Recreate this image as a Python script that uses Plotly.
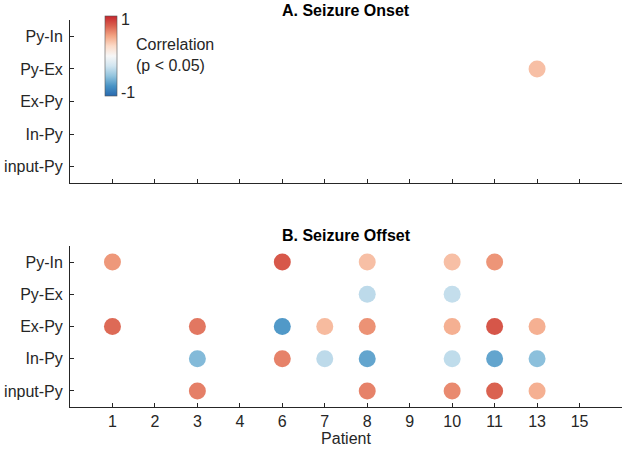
import plotly.graph_objects as go

patients = ["1", "2", "3", "4", "6", "7", "8", "9", "10", "11", "13", "15"]
connections = ["input-Py", "In-Py", "Ex-Py", "Py-Ex", "Py-In"]

# Panel A: seizure onset (patient label, connection, correlation)
onset_patient = ["13"]
onset_conn = ["Py-Ex"]
onset_corr = [0.38]

# Panel B: seizure offset
offset_patient = ["1", "1",
                  "3", "3", "3",
                  "6", "6", "6",
                  "7", "7",
                  "8", "8", "8", "8", "8",
                  "10", "10", "10", "10", "10",
                  "11", "11", "11", "11",
                  "13", "13", "13"]
offset_conn = ["Py-In", "Ex-Py",
               "Ex-Py", "In-Py", "input-Py",
               "Py-In", "Ex-Py", "In-Py",
               "Ex-Py", "In-Py",
               "Py-In", "Py-Ex", "Ex-Py", "In-Py", "input-Py",
               "Py-In", "Py-Ex", "Ex-Py", "In-Py", "input-Py",
               "Py-In", "Ex-Py", "In-Py", "input-Py",
               "Ex-Py", "In-Py", "input-Py"]
offset_corr = [0.55, 0.72,
               0.67, -0.55, 0.64,
               0.79, -0.72, 0.63,
               0.40, -0.33,
               0.38, -0.33, 0.57, -0.66, 0.63,
               0.38, -0.30, 0.45, -0.32, 0.60,
               0.56, 0.80, -0.66, 0.75,
               0.45, -0.52, 0.45]

# colorbar tick labels
cbar_labels = ["-1", "1"]

xpos = {p: i + 1 for i, p in enumerate(patients)}
ypos = {c: i + 1 for i, c in enumerate(connections)}

colorscale = [
    [0.0, "rgb(40,105,175)"],
    [0.125, "rgb(72,147,197)"],
    [0.25, "rgb(146,196,222)"],
    [0.375, "rgb(209,229,240)"],
    [0.5, "rgb(247,247,247)"],
    [0.625, "rgb(252,219,200)"],
    [0.75, "rgb(243,165,132)"],
    [0.875, "rgb(218,98,80)"],
    [1.0, "rgb(198,38,45)"],
]

FONT = "Liberation Sans, Arial, Helvetica, sans-serif"
AX = "#262626"
FS = 16

fig = go.Figure()
fig.add_trace(go.Scatter(
    x=[xpos[p] for p in onset_patient], y=[ypos[c] for c in onset_conn],
    mode="markers", xaxis="x", yaxis="y",
    marker=dict(size=17, color=onset_corr, coloraxis="coloraxis", line=dict(width=0)),
    showlegend=False, hoverinfo="skip"))
fig.add_trace(go.Scatter(
    x=[xpos[p] for p in offset_patient], y=[ypos[c] for c in offset_conn],
    mode="markers", xaxis="x2", yaxis="y2",
    marker=dict(size=17, color=offset_corr, coloraxis="coloraxis", line=dict(width=0)),
    showlegend=False, hoverinfo="skip"))

W, H = 625, 455
ml, mr, mt, mb = 70, 3, 20, 48
pw, ph = W - ml - mr, H - mt - mb

def py(pix_from_top):
    return (H - mb - pix_from_top) / ph

def px(pix):
    return (pix - ml) / pw

xcommon = dict(range=[0, 13], tickmode="array", tickvals=list(range(1, 13)),
               ticks="inside", ticklen=4, tickwidth=1, tickcolor=AX,
               showline=True, linecolor=AX, linewidth=1, showgrid=False,
               zeroline=False, mirror=False, fixedrange=True, automargin=False)
ycommon = dict(range=[0.5, 5.5], tickmode="array", tickvals=list(range(1, 6)),
               ticktext=connections, ticks="inside", ticklen=4, tickwidth=1,
               tickcolor=AX, showline=True, linecolor=AX, linewidth=1,
               showgrid=False, zeroline=False, ticklabelstandoff=3, automargin=False,
               fixedrange=True, tickfont=dict(size=FS, color=AX, family=FONT))

fig.update_layout(
    width=W, height=H,
    margin=dict(l=ml, r=mr, t=mt, b=mb, autoexpand=False),
    paper_bgcolor="white", plot_bgcolor="white",
    font=dict(family=FONT, size=FS, color=AX),
    xaxis=dict(**xcommon, domain=[0, 1], anchor="y", showticklabels=False),
    yaxis=dict(**ycommon, domain=[py(183), py(20)], anchor="x"),
    xaxis2=dict(**xcommon, domain=[0, 1], anchor="y2", ticktext=patients,
                showticklabels=True, tickfont=dict(size=FS, color=AX, family=FONT),
                title=dict(text="Patient", font=dict(size=FS, color=AX), standoff=0)),
    yaxis2=dict(**ycommon, domain=[py(407), py(246)], anchor="x2"),
    coloraxis=dict(
        colorscale=colorscale, cmin=-1, cmax=1,
        colorbar=dict(
            x=px(105), xanchor="left", xref="paper",
            y=py(56), yanchor="middle", yref="paper",
            len=80, lenmode="pixels", thickness=12, thicknessmode="pixels",
            outlinewidth=0.6, outlinecolor="#555555",
            tickmode="array", tickvals=[-0.9, 0.92], ticktext=cbar_labels,
            ticks="", tickfont=dict(size=FS, color=AX, family=FONT),
            ticklabelposition="outside", xpad=0, ypad=0,
        ),
    ),
    annotations=[
        dict(text="<b>A. Seizure Onset</b>", x=0.5, xref="paper", y=py(10),
             yref="paper", xanchor="center", yanchor="middle", showarrow=False,
             font=dict(size=16, color="black", family=FONT)),
        dict(text="<b>B. Seizure Offset</b>", x=0.5, xref="paper", y=py(235),
             yref="paper", xanchor="center", yanchor="middle", showarrow=False,
             font=dict(size=16, color="black", family=FONT)),
        dict(text="Correlation<br>(p < 0.05)", x=px(134), xref="paper",
             y=py(55), yref="paper", xanchor="left", yanchor="middle",
             align="left", showarrow=False,
             font=dict(size=FS, color=AX, family=FONT)),
    ],
)

fig.write_html("out.html", config={"displayModeBar": False, "staticPlot": True},
               post_script="document.body.style.margin='0';document.body.style.padding='0';")
